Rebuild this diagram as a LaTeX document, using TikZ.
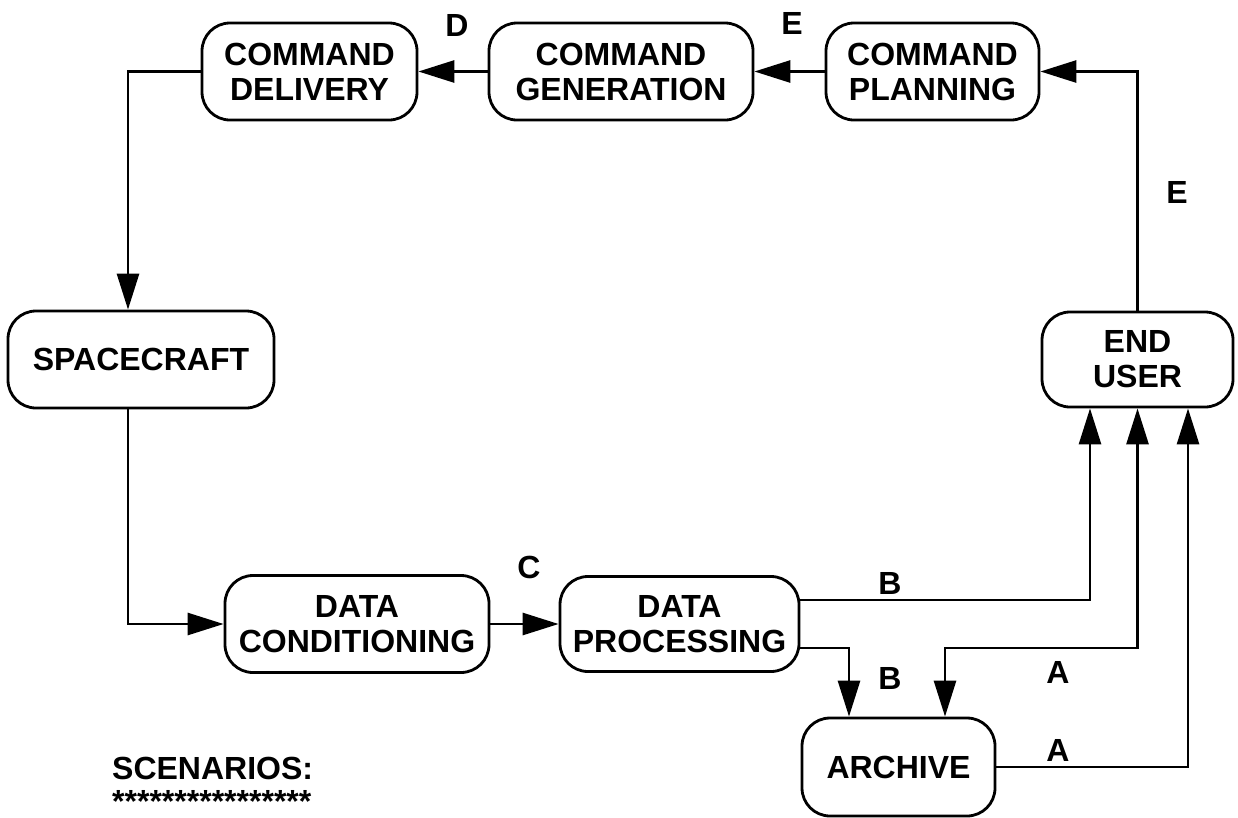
\documentclass[tikz,border=0pt]{standalone}
\usepackage{fontspec}
\setmainfont{Liberation Sans}
\usetikzlibrary{arrows.meta}
\begin{document}
\begin{tikzpicture}[x=1pt,y=-1pt,
  box/.style={draw, line width=2.8pt, rounded corners=28pt, align=center, inner sep=0pt,
    font=\fontsize{32}{35}\selectfont\bfseries},
  lbl/.style={font=\fontsize{32}{35}\selectfont\bfseries, inner sep=0pt},
  arr/.style={line width=2.8pt, -{Triangle[length=36pt,width=22pt]}},
  arrtwo/.style={line width=2.8pt, {Triangle[length=36pt,width=22pt]}-{Triangle[length=36pt,width=22pt]}},
  ]
\useasboundingbox (0,0) rectangle (1238,817);
\node[box, minimum width=215pt, minimum height=97pt] (deliv) at (309.5,71.5) {COMMAND\\DELIVERY};
\node[box, minimum width=264pt, minimum height=97pt] (gen) at (621,71.5) {COMMAND\\GENERATION};
\node[box, minimum width=213pt, minimum height=97pt] (plan) at (932.5,71.5) {COMMAND\\PLANNING};
\node[box, minimum width=266pt, minimum height=97pt] (space) at (141,359.5) {SPACECRAFT};
\node[box, minimum width=191pt, minimum height=95pt] (user) at (1137.5,359.5) {END\\USER};
\node[box, minimum width=264pt, minimum height=97pt] (cond) at (357,624) {DATA\\CONDITIONING};
\node[box, minimum width=239pt, minimum height=95pt] (proc) at (679.5,624) {DATA\\PROCESSING};
\node[box, minimum width=193pt, minimum height=98pt] (arch) at (898.5,767) {ARCHIVE};

\draw[arr] (gen.west) -- (deliv.east);
\draw[arr] (plan.west) -- (gen.east);
\draw[arr] (user.north) |- (plan.east);
\draw[arr] (deliv.west) -| ([xshift=-13pt]space.north);
\draw[arr] ([xshift=-13pt]space.south) |- (cond.west);
\draw[arr] (cond.east) -- (proc.west);
\draw[arr] ([yshift=24pt]proc.east) -| ([xshift=-47.5pt]user.south);
\draw[arr] ([yshift=-24pt]proc.east) -| ([xshift=-49.5pt]arch.north);
\coordinate (mid) at (945,648);
\draw[arrtwo] (user.south) |- (mid) -- ([xshift=46.5pt]arch.north);
\draw[arr] (arch.east) -| ([xshift=50.5pt]user.south);

\node[lbl] (lD) at (457,25) {D};
\node[lbl] (lE1) at (792,23) {E};
\node[lbl] (lE2) at (1177,192) {E};
\node[lbl] (lC) at (529,567) {C};
\node[lbl] (lB1) at (890,583) {B};
\node[lbl] (lB2) at (890,678) {B};
\node[lbl] (lA1) at (1058,672) {A};
\node[lbl] (lA2) at (1058,750) {A};
\node[lbl, anchor=west] (scen) at (112,768) {SCENARIOS:};
\node[lbl, anchor=base west] (stars) at (112,812) {****************};
\end{tikzpicture}
\end{document}
